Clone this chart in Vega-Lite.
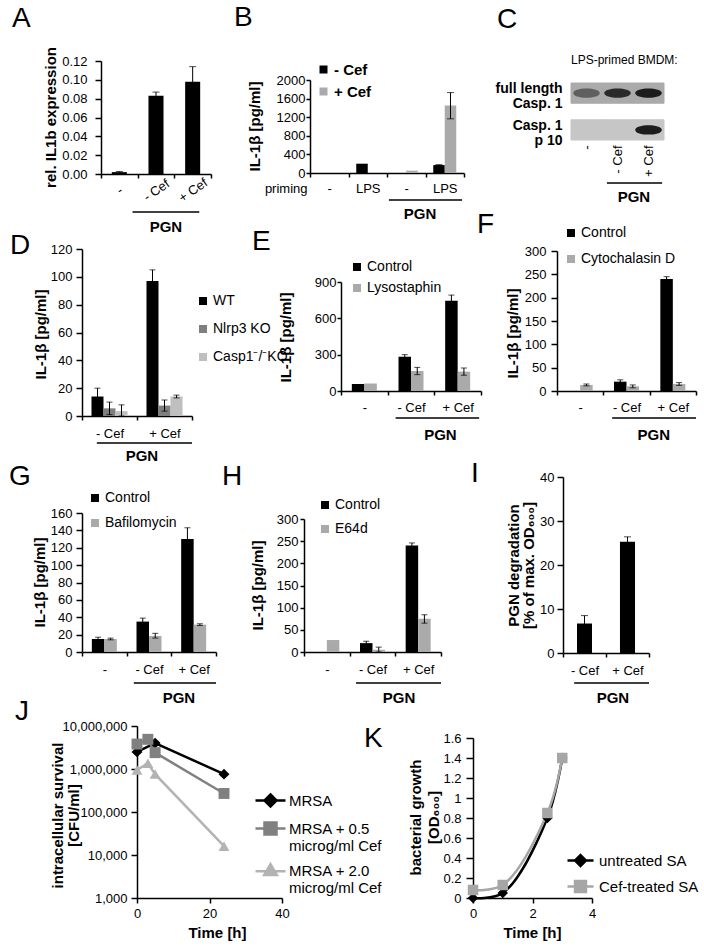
{
"$schema": "https://vega.github.io/schema/vega-lite/v6.json",
"padding": 0,
"background": "white",
"columns": 3,
"spacing": 0,
"bounds": "flush",
"align": "all",
"resolve": {"scale": {"color": "independent", "xOffset": "independent", "shape": "independent", "fill": "independent", "stroke": "independent", "opacity": "independent"}},
"config": {
 "font": "Liberation Sans",
 "view": {"stroke": null, "fill": "transparent"},
 "axis": {"grid": false, "labelFlush": false, "labelOverlap": false, "domainColor": "#000", "domainWidth": 1.5, "tickColor": "#000", "tickWidth": 1.5, "tickSize": 5, "labelPadding": 3, "labelColor": "#000", "labelFontSize": 13, "labelFont": "Liberation Sans", "titleFont": "Liberation Sans", "titleFontSize": 15, "titleFontWeight": "bold", "titleColor": "#000", "titleBaseline": "middle", "titleAlign": "center"},
 "legend": {"labelFont": "Liberation Sans", "labelFontSize": 14, "labelColor": "#000", "symbolType": "square", "symbolSize": 64, "symbolStrokeWidth": 0, "padding": 0, "labelOffset": 3, "rowPadding": 6},
 "title": {"font": "Liberation Sans", "fontSize": 28, "fontWeight": "normal", "anchor": "start", "frame": "group", "offset": 0, "baseline": "alphabetic", "color": "#000"},
 "text": {"font": "Liberation Sans", "color": "#000"}
},
"concat": [
{
 "width": 234, "height": 237,
 "title": {"text": "A", "dx": 8, "dy": 37},
 "data": {"values": [
  {"grp": "-", "val": 0.002, "lo": 0.0013, "hi": 0.0027},
  {"grp": "- Cef", "val": 0.083, "lo": 0.079, "hi": 0.087},
  {"grp": "+ Cef", "val": 0.098, "lo": 0.082, "hi": 0.114}
 ]},
 "layer": [
  {"mark": {"type": "bar", "color": "#000", "width": {"band": 0.41}},
   "encoding": {
    "x": {"field": "grp", "type": "nominal", "scale": {"domain": ["-", "- Cef", "+ Cef"], "range": [97, 207], "paddingInner": 0, "paddingOuter": 0},
          "axis": {"title": null, "offset": -63, "ticks": true, "tickBand": "extent", "tickSize": 4, "labelAngle": -35, "labelAlign": "center", "labelBaseline": "middle", "labelPadding": 12, "labelOverlap": false}},
    "y": {"field": "val", "type": "quantitative", "scale": {"domain": [0, 0.12], "range": [174, 61], "nice": false},
          "axis": {"title": "rel. IL1b expression", "offset": -97, "values": [0, 0.02, 0.04, 0.06, 0.08, 0.1, 0.12], "tickCount": 20, "format": ".2f", "tickSize": 6, "labelPadding": 8, "titleX": -51, "titleY": 117, "labelOverlap": false, "labelFlush": false}}
   }},
  {"mark": {"type": "rule", "color": "#000", "strokeWidth": 1},
   "encoding": {"x": {"field": "grp", "type": "nominal"}, "y": {"field": "lo", "type": "quantitative"}, "y2": {"field": "hi"}}},
  {"mark": {"type": "tick", "color": "#000", "thickness": 1, "size": 7},
   "encoding": {"x": {"field": "grp", "type": "nominal"}, "y": {"field": "hi", "type": "quantitative"}}},
  {"data": {"values": [{}]}, "mark": {"type": "rule", "color": "#000", "strokeWidth": 1.5},
   "encoding": {"x": {"datum": "-", "bandPosition": 0.86}, "x2": {"datum": "+ Cef", "bandPosition": 0.68}, "y": {"datum": -0.0404}}},
  {"data": {"values": [{}]}, "mark": {"type": "text", "text": "PGN", "fontWeight": "bold", "fontSize": 15, "baseline": "middle"},
   "encoding": {"x": {"datum": "- Cef", "bandPosition": 0.77}, "y": {"datum": -0.0563}}}
 ]
},
{
 "width": 234, "height": 237,
 "title": {"text": "B", "dx": -4, "dy": 36},
 "data": {"values": [
  {"grp": "none|LPS", "ser": "- Cef", "val": 200},
  {"grp": "PGN|-", "ser": "+ Cef", "val": 50},
  {"grp": "PGN|LPS", "ser": "- Cef", "val": 170, "lo": 160, "hi": 180},
  {"grp": "PGN|LPS", "ser": "+ Cef", "val": 1450, "lo": 1165, "hi": 1730}
 ]},
 "layer": [
  {"mark": {"type": "bar"},
   "encoding": {
    "x": {"field": "grp", "type": "nominal", "scale": {"domain": ["none|-", "none|LPS", "PGN|-", "PGN|LPS"], "range": [72, 226], "paddingInner": 0, "paddingOuter": 0},
          "axis": {"title": "priming", "offset": -64, "ticks": true, "tickBand": "extent", "tickSize": 4, "labelAngle": 0, "labelBaseline": "middle", "labelPadding": 11, "labelOverlap": false, "labelExpr": "split(datum.label, '|')[1]", "titleX": 69, "titleY": 15, "titleAlign": "right", "titleFontWeight": "normal", "titleFontSize": 13}},
    "xOffset": {"field": "ser", "type": "nominal", "scale": {"domain": ["- Cef", "+ Cef"], "paddingInner": 0, "paddingOuter": 0.674}},
    "y": {"field": "val", "type": "quantitative", "scale": {"domain": [0, 2000], "range": [173, 80], "nice": false},
          "axis": {"title": "IL-1β [pg/ml]", "offset": -72, "values": [0, 400, 800, 1200, 1600, 2000], "tickCount": 20, "format": "d", "tickSize": 4, "labelPadding": 1, "titleX": -56, "titleY": 126, "labelOverlap": false, "labelFlush": false}},
    "color": {"field": "ser", "type": "nominal", "scale": {"domain": ["- Cef", "+ Cef"], "range": ["#000000", "#aaaaaa"]},
              "legend": {"title": null, "orient": "none", "legendX": 78, "legendY": 62, "rowPadding": 6, "labelFontWeight": "bold", "labelFontSize": 15, "symbolType": "square", "symbolSize": 64, "symbolStrokeWidth": 0, "padding": 0, "labelOffset": 3}}
   }},
  {"mark": {"type": "rule", "color": "#000", "strokeWidth": 1},
   "encoding": {"x": {"field": "grp", "type": "nominal"}, "xOffset": {"field": "ser", "type": "nominal"}, "y": {"field": "lo", "type": "quantitative"}, "y2": {"field": "hi"}}},
  {"mark": {"type": "tick", "color": "#000", "thickness": 1, "size": 7},
   "encoding": {"x": {"field": "grp", "type": "nominal"}, "xOffset": {"field": "ser", "type": "nominal"}, "y": {"field": "hi", "type": "quantitative"}}},
  {"mark": {"type": "tick", "color": "#000", "thickness": 1, "size": 7},
   "encoding": {"x": {"field": "grp", "type": "nominal"}, "xOffset": {"field": "ser", "type": "nominal"}, "y": {"field": "lo", "type": "quantitative"}}},
  {"data": {"values": [{}]}, "mark": {"type": "rule", "color": "#000", "strokeWidth": 1.5},
   "encoding": {"x": {"datum": "PGN|-", "bandPosition": 0.05}, "x2": {"datum": "PGN|LPS", "bandPosition": 0.95}, "y": {"datum": -580}}},
  {"data": {"values": [{}]}, "mark": {"type": "text", "text": "PGN", "fontWeight": "bold", "fontSize": 15, "baseline": "middle"},
   "encoding": {"x": {"datum": "PGN|-", "bandPosition": 0.86}, "y": {"datum": -882}}}
 ]
},
{
 "width": 234, "height": 237,
 "title": {"text": "C", "dx": 25, "dy": 38},
 "resolve": {"scale": {"y": "independent"}, "axis": {"y": "independent"}},
 "layer": [
  {"data": {"values": [
    {"lane": "-", "row": "full length|Casp. 1", "intensity": 0.5},
    {"lane": "- Cef", "row": "full length|Casp. 1", "intensity": 0.85},
    {"lane": "+ Cef", "row": "full length|Casp. 1", "intensity": 0.95},
    {"lane": "-", "row": "Casp. 1|p 10", "intensity": 0},
    {"lane": "- Cef", "row": "Casp. 1|p 10", "intensity": 0},
    {"lane": "+ Cef", "row": "Casp. 1|p 10", "intensity": 0.95}
   ]},
   "layer": [
    {"mark": {"type": "rect", "strokeWidth": 1},
     "encoding": {
      "x": {"field": "lane", "type": "nominal", "scale": {"domain": ["-", "- Cef", "+ Cef"], "range": [99, 192], "paddingInner": 0, "paddingOuter": 0},
            "axis": {"title": null, "offset": -95, "ticks": false, "tickSize": 0, "domain": false, "labelAngle": -90, "labelAlign": "right", "labelBaseline": "middle", "labelPadding": 3, "labelOverlap": false}},
      "y": {"field": "row", "type": "nominal", "scale": {"domain": ["full length|Casp. 1", "Casp. 1|p 10"], "range": [83, 140], "paddingInner": 0.45, "paddingOuter": 0},
            "axis": {"title": null, "offset": -99, "ticks": false, "tickSize": 0, "domain": false, "labelPadding": 9, "labelExpr": "split(datum.label, '|')", "labelFontWeight": "bold", "labelFontSize": 14, "labelLineHeight": 15, "labelOffset": -4, "labelAlign": "right", "labelBaseline": "middle", "labelOverlap": false}},
      "fill": {"field": "row", "type": "nominal", "scale": {"domain": ["full length|Casp. 1", "Casp. 1|p 10"], "range": ["#aaaaaa", "#c6c6c6"]}, "legend": null},
      "stroke": {"field": "row", "type": "nominal", "scale": {"domain": ["full length|Casp. 1", "Casp. 1|p 10"], "range": ["#aaaaaa", "#c6c6c6"]}, "legend": null}
     }},
    {"mark": {"type": "point", "shape": "M-0.95,0C-0.95,-0.45 0.95,-0.45 0.95,0C0.95,0.45 -0.95,0.45 -0.95,0Z", "size": 784, "filled": true, "color": "#141414"},
     "encoding": {
      "x": {"field": "lane", "type": "nominal"},
      "y": {"field": "row", "type": "nominal"},
      "opacity": {"field": "intensity", "type": "quantitative", "scale": {"domain": [0, 1], "range": [0, 1]}, "legend": null}
     }}
   ]},
  {"data": {"values": [{}]},
   "layer": [
    {"mark": {"type": "rule", "color": "#000", "strokeWidth": 1.5},
     "encoding": {"x": {"datum": "- Cef", "bandPosition": 0.16}, "x2": {"datum": "+ Cef", "bandPosition": 0.94},
                  "y": {"datum": 0.898, "scale": {"domain": [0, 1], "range": [60, 197], "nice": false, "zero": false}, "axis": null}}},
    {"mark": {"type": "text", "text": "PGN", "fontWeight": "bold", "fontSize": 15, "baseline": "middle"},
     "encoding": {"x": {"datum": "+ Cef", "bandPosition": 0.03}, "y": {"datum": 1}}},
    {"mark": {"type": "text", "text": "LPS-primed BMDM:", "fontSize": 12, "align": "left", "baseline": "middle"},
     "encoding": {"x": {"datum": "-", "bandPosition": 0}, "y": {"datum": 0}}}
   ]}
 ]
},
{
 "width": 234, "height": 237,
 "title": {"text": "D", "dx": 6, "dy": 27},
 "data": {"values": [
  {"grp": "- Cef", "ser": "WT", "val": 14, "lo": 8, "hi": 20},
  {"grp": "- Cef", "ser": "Nlrp3 KO", "val": 5.5, "lo": 1, "hi": 10},
  {"grp": "- Cef", "ser": "Casp1⁻/⁻KO", "val": 3.5, "lo": 0, "hi": 8},
  {"grp": "+ Cef", "ser": "WT", "val": 97, "lo": 89, "hi": 105},
  {"grp": "+ Cef", "ser": "Nlrp3 KO", "val": 7.5, "lo": 3.5, "hi": 11.5},
  {"grp": "+ Cef", "ser": "Casp1⁻/⁻KO", "val": 14, "lo": 13, "hi": 15}
 ]},
 "layer": [
  {"mark": {"type": "bar"},
   "encoding": {
    "x": {"field": "grp", "type": "nominal", "scale": {"domain": ["- Cef", "+ Cef"], "range": [78, 188], "paddingInner": 0, "paddingOuter": 0},
          "axis": {"title": null, "offset": -58, "ticks": true, "tickBand": "extent", "tickSize": 4, "labelAngle": 0, "labelBaseline": "middle", "labelPadding": 13, "labelOverlap": false}},
    "xOffset": {"field": "ser", "type": "nominal", "scale": {"domain": ["WT", "Nlrp3 KO", "Casp1⁻/⁻KO"], "paddingInner": 0, "paddingOuter": 0.79}},
    "y": {"field": "val", "type": "quantitative", "scale": {"domain": [0, 120], "range": [179, 12], "nice": false},
          "axis": {"title": "IL-1β [pg/ml]", "offset": -78, "values": [0, 20, 40, 60, 80, 100, 120], "tickCount": 20, "tickSize": 6, "labelPadding": 4, "titleX": -42, "titleY": 97, "labelOverlap": false, "labelFlush": false}},
    "color": {"field": "ser", "type": "nominal", "scale": {"domain": ["WT", "Nlrp3 KO", "Casp1⁻/⁻KO"], "range": ["#000000", "#7f7f7f", "#bfbfbf"]},
              "legend": {"title": null, "orient": "none", "legendX": 192, "legendY": 57, "rowPadding": 14, "labelFontSize": 14, "symbolType": "square", "symbolSize": 64, "symbolStrokeWidth": 0, "padding": 0, "labelOffset": 3}}
   }},
  {"mark": {"type": "rule", "color": "#000", "strokeWidth": 1},
   "encoding": {"x": {"field": "grp", "type": "nominal"}, "xOffset": {"field": "ser", "type": "nominal"}, "y": {"field": "lo", "type": "quantitative"}, "y2": {"field": "hi"}}},
  {"mark": {"type": "tick", "color": "#000", "thickness": 1, "size": 6},
   "encoding": {"x": {"field": "grp", "type": "nominal"}, "xOffset": {"field": "ser", "type": "nominal"}, "y": {"field": "hi", "type": "quantitative"}}},
  {"mark": {"type": "tick", "color": "#000", "thickness": 1, "size": 6},
   "encoding": {"x": {"field": "grp", "type": "nominal"}, "xOffset": {"field": "ser", "type": "nominal"}, "y": {"field": "lo", "type": "quantitative"}}},
  {"data": {"values": [{}]}, "mark": {"type": "rule", "color": "#000", "strokeWidth": 1.5},
   "encoding": {"x": {"datum": "- Cef", "bandPosition": 0.27}, "x2": {"datum": "+ Cef", "bandPosition": 1}, "y": {"datum": -19.4}}},
  {"data": {"values": [{}]}, "mark": {"type": "text", "text": "PGN", "fontWeight": "bold", "fontSize": 15, "baseline": "middle"},
   "encoding": {"x": {"datum": "+ Cef", "bandPosition": 0.09}, "y": {"datum": -28.7}}}
 ]
},
{
 "width": 234, "height": 237,
 "title": {"text": "E", "dx": 14, "dy": 23},
 "data": {"values": [
  {"grp": "-", "ser": "Control", "val": 58},
  {"grp": "-", "ser": "Lysostaphin", "val": 62},
  {"grp": "- Cef", "ser": "Control", "val": 283, "lo": 266, "hi": 300},
  {"grp": "- Cef", "ser": "Lysostaphin", "val": 165, "lo": 135, "hi": 195},
  {"grp": "+ Cef", "ser": "Control", "val": 745, "lo": 700, "hi": 792},
  {"grp": "+ Cef", "ser": "Lysostaphin", "val": 160, "lo": 130, "hi": 190}
 ]},
 "layer": [
  {"mark": {"type": "bar"},
   "encoding": {
    "x": {"field": "grp", "type": "nominal", "scale": {"domain": ["-", "- Cef", "+ Cef"], "range": [103, 243], "paddingInner": 0, "paddingOuter": 0},
          "axis": {"title": null, "offset": -83, "ticks": true, "tickBand": "extent", "tickSize": 4, "labelAngle": 0, "labelBaseline": "middle", "labelPadding": 12, "labelOverlap": false}},
    "xOffset": {"field": "ser", "type": "nominal", "scale": {"domain": ["Control", "Lysostaphin"], "paddingInner": 0, "paddingOuter": 0.867}},
    "y": {"field": "val", "type": "quantitative", "scale": {"domain": [0, 900], "range": [154, 45], "nice": false},
          "axis": {"title": "IL-1β [pg/ml]", "offset": -103, "values": [0, 300, 600, 900], "tickCount": 20, "tickSize": 4, "labelPadding": 1, "titleX": -56, "titleY": 100, "labelOverlap": false, "labelFlush": false}},
    "color": {"field": "ser", "type": "nominal", "scale": {"domain": ["Control", "Lysostaphin"], "range": ["#000000", "#aaaaaa"]},
              "legend": {"title": null, "orient": "none", "legendX": 112, "legendY": 23, "rowPadding": 7, "labelFontSize": 14, "symbolType": "square", "symbolSize": 64, "symbolStrokeWidth": 0, "padding": 0, "labelOffset": 3}}
   }},
  {"mark": {"type": "rule", "color": "#000", "strokeWidth": 1},
   "encoding": {"x": {"field": "grp", "type": "nominal"}, "xOffset": {"field": "ser", "type": "nominal"}, "y": {"field": "lo", "type": "quantitative"}, "y2": {"field": "hi"}}},
  {"mark": {"type": "tick", "color": "#000", "thickness": 1, "size": 6},
   "encoding": {"x": {"field": "grp", "type": "nominal"}, "xOffset": {"field": "ser", "type": "nominal"}, "y": {"field": "hi", "type": "quantitative"}}},
  {"mark": {"type": "tick", "color": "#000", "thickness": 1, "size": 6},
   "encoding": {"x": {"field": "grp", "type": "nominal"}, "xOffset": {"field": "ser", "type": "nominal"}, "y": {"field": "lo", "type": "quantitative"}}},
  {"data": {"values": [{}]}, "mark": {"type": "rule", "color": "#000", "strokeWidth": 1.5},
   "encoding": {"x": {"datum": "- Cef", "bandPosition": 0.17}, "x2": {"datum": "+ Cef", "bandPosition": 0.96}, "y": {"datum": -223}}},
  {"data": {"values": [{}]}, "mark": {"type": "text", "text": "PGN", "fontWeight": "bold", "fontSize": 15, "baseline": "middle"},
   "encoding": {"x": {"datum": "+ Cef", "bandPosition": 0.13}, "y": {"datum": -363}}}
 ]
},
{
 "width": 234, "height": 237,
 "title": {"text": "F", "dx": 5, "dy": 17},
 "data": {"values": [
  {"grp": "-", "ser": "Cytochalasin D", "val": 13, "lo": 11, "hi": 15},
  {"grp": "- Cef", "ser": "Control", "val": 20, "lo": 16, "hi": 24},
  {"grp": "- Cef", "ser": "Cytochalasin D", "val": 10, "lo": 7, "hi": 13},
  {"grp": "+ Cef", "ser": "Control", "val": 240, "lo": 235, "hi": 245},
  {"grp": "+ Cef", "ser": "Cytochalasin D", "val": 15, "lo": 12, "hi": 18}
 ]},
 "layer": [
  {"mark": {"type": "bar"},
   "encoding": {
    "x": {"field": "grp", "type": "nominal", "scale": {"domain": ["-", "- Cef", "+ Cef"], "range": [85, 224], "paddingInner": 0, "paddingOuter": 0},
          "axis": {"title": null, "offset": -83, "ticks": true, "tickBand": "extent", "tickSize": 4, "labelAngle": 0, "labelBaseline": "middle", "labelPadding": 12, "labelOverlap": false}},
    "xOffset": {"field": "ser", "type": "nominal", "scale": {"domain": ["Control", "Cytochalasin D"], "paddingInner": 0, "paddingOuter": 0.853}},
    "y": {"field": "val", "type": "quantitative", "scale": {"domain": [0, 300], "range": [154, 14], "nice": false},
          "axis": {"title": "IL-1β  [pg/ml]", "offset": -85, "values": [0, 50, 100, 150, 200, 250, 300], "tickCount": 20, "tickSize": 6, "labelPadding": 5, "titleX": -45, "titleY": 96, "labelOverlap": false, "labelFlush": false}},
    "color": {"field": "ser", "type": "nominal", "scale": {"domain": ["Control", "Cytochalasin D"], "range": ["#000000", "#aaaaaa"]},
              "legend": {"title": null, "orient": "none", "legendX": 92, "legendY": -11, "rowPadding": 12, "labelFontSize": 14, "symbolType": "square", "symbolSize": 64, "symbolStrokeWidth": 0, "padding": 0, "labelOffset": 3}}
   }},
  {"mark": {"type": "rule", "color": "#000", "strokeWidth": 1},
   "encoding": {"x": {"field": "grp", "type": "nominal"}, "xOffset": {"field": "ser", "type": "nominal"}, "y": {"field": "lo", "type": "quantitative"}, "y2": {"field": "hi"}}},
  {"mark": {"type": "tick", "color": "#000", "thickness": 1, "size": 6},
   "encoding": {"x": {"field": "grp", "type": "nominal"}, "xOffset": {"field": "ser", "type": "nominal"}, "y": {"field": "hi", "type": "quantitative"}}},
  {"mark": {"type": "tick", "color": "#000", "thickness": 1, "size": 6},
   "encoding": {"x": {"field": "grp", "type": "nominal"}, "xOffset": {"field": "ser", "type": "nominal"}, "y": {"field": "lo", "type": "quantitative"}}},
  {"data": {"values": [{}]}, "mark": {"type": "rule", "color": "#000", "strokeWidth": 1.5},
   "encoding": {"x": {"datum": "- Cef", "bandPosition": 0.19}, "x2": {"datum": "+ Cef", "bandPosition": 1}, "y": {"datum": -57.9}}},
  {"data": {"values": [{}]}, "mark": {"type": "text", "text": "PGN", "fontWeight": "bold", "fontSize": 15, "baseline": "middle"},
   "encoding": {"x": {"datum": "+ Cef", "bandPosition": 0.09}, "y": {"datum": -94.3}}}
 ]
},
{
 "width": 234, "height": 237,
 "title": {"text": "G", "dx": 5, "dy": 21},
 "data": {"values": [
  {"grp": "-", "ser": "Control", "val": 15, "lo": 13, "hi": 17},
  {"grp": "-", "ser": "Bafilomycin", "val": 15, "lo": 14, "hi": 16},
  {"grp": "- Cef", "ser": "Control", "val": 35, "lo": 31, "hi": 39},
  {"grp": "- Cef", "ser": "Bafilomycin", "val": 18.5, "lo": 16, "hi": 21.5},
  {"grp": "+ Cef", "ser": "Control", "val": 130, "lo": 117, "hi": 143},
  {"grp": "+ Cef", "ser": "Bafilomycin", "val": 31.5, "lo": 30.5, "hi": 32.5}
 ]},
 "layer": [
  {"mark": {"type": "bar"},
   "encoding": {
    "x": {"field": "grp", "type": "nominal", "scale": {"domain": ["-", "- Cef", "+ Cef"], "range": [78, 212], "paddingInner": 0, "paddingOuter": 0},
          "axis": {"title": null, "offset": -59, "ticks": true, "tickBand": "extent", "tickSize": 4, "labelAngle": 0, "labelBaseline": "middle", "labelPadding": 13, "labelOverlap": false}},
    "xOffset": {"field": "ser", "type": "nominal", "scale": {"domain": ["Control", "Bafilomycin"], "paddingInner": 0, "paddingOuter": 0.787}},
    "y": {"field": "val", "type": "quantitative", "scale": {"domain": [0, 160], "range": [178, 39], "nice": false},
          "axis": {"title": "IL-1β  [pg/ml]", "offset": -78, "values": [0, 20, 40, 60, 80, 100, 120, 140, 160], "tickCount": 20, "tickSize": 6, "labelPadding": 4, "titleX": -43, "titleY": 108, "labelOverlap": false, "labelFlush": false}},
    "color": {"field": "ser", "type": "nominal", "scale": {"domain": ["Control", "Bafilomycin"], "range": ["#000000", "#aaaaaa"]},
              "legend": {"title": null, "orient": "none", "legendX": 84, "legendY": 17, "rowPadding": 11, "labelFontSize": 14, "symbolType": "square", "symbolSize": 64, "symbolStrokeWidth": 0, "padding": 0, "labelOffset": 3}}
   }},
  {"mark": {"type": "rule", "color": "#000", "strokeWidth": 1},
   "encoding": {"x": {"field": "grp", "type": "nominal"}, "xOffset": {"field": "ser", "type": "nominal"}, "y": {"field": "lo", "type": "quantitative"}, "y2": {"field": "hi"}}},
  {"mark": {"type": "tick", "color": "#000", "thickness": 1, "size": 6},
   "encoding": {"x": {"field": "grp", "type": "nominal"}, "xOffset": {"field": "ser", "type": "nominal"}, "y": {"field": "hi", "type": "quantitative"}}},
  {"mark": {"type": "tick", "color": "#000", "thickness": 1, "size": 6},
   "encoding": {"x": {"field": "grp", "type": "nominal"}, "xOffset": {"field": "ser", "type": "nominal"}, "y": {"field": "lo", "type": "quantitative"}}},
  {"data": {"values": [{}]}, "mark": {"type": "rule", "color": "#000", "strokeWidth": 1.5},
   "encoding": {"x": {"datum": "- Cef", "bandPosition": 0.16}, "x2": {"datum": "+ Cef", "bandPosition": 1}, "y": {"datum": -35.7}}},
  {"data": {"values": [{}]}, "mark": {"type": "text", "text": "PGN", "fontWeight": "bold", "fontSize": 15, "baseline": "middle"},
   "encoding": {"x": {"datum": "+ Cef", "bandPosition": 0.17}, "y": {"datum": -52.9}}}
 ]
},
{
 "width": 234, "height": 237,
 "title": {"text": "H", "dx": -16, "dy": 21},
 "data": {"values": [
  {"grp": "-", "ser": "E64d", "val": 27},
  {"grp": "- Cef", "ser": "Control", "val": 20, "lo": 15.5, "hi": 24.5},
  {"grp": "- Cef", "ser": "E64d", "val": 5, "lo": 0, "hi": 11},
  {"grp": "+ Cef", "ser": "Control", "val": 240, "lo": 234, "hi": 246},
  {"grp": "+ Cef", "ser": "E64d", "val": 75, "lo": 65, "hi": 84}
 ]},
 "layer": [
  {"mark": {"type": "bar"},
   "encoding": {
    "x": {"field": "grp", "type": "nominal", "scale": {"domain": ["-", "- Cef", "+ Cef"], "range": [66, 203], "paddingInner": 0, "paddingOuter": 0},
          "axis": {"title": null, "offset": -59, "ticks": true, "tickBand": "extent", "tickSize": 4, "labelAngle": 0, "labelBaseline": "middle", "labelPadding": 13, "labelOverlap": false}},
    "xOffset": {"field": "ser", "type": "nominal", "scale": {"domain": ["Control", "E64d"], "paddingInner": 0, "paddingOuter": 0.827}},
    "y": {"field": "val", "type": "quantitative", "scale": {"domain": [0, 300], "range": [178, 45], "nice": false},
          "axis": {"title": "IL-1β  [pg/ml]", "offset": -66, "values": [0, 50, 100, 150, 200, 250, 300], "tickCount": 20, "tickSize": 4, "labelPadding": 2, "titleX": -47, "titleY": 111, "labelOverlap": false, "labelFlush": false}},
    "color": {"field": "ser", "type": "nominal", "scale": {"domain": ["Control", "E64d"], "range": ["#000000", "#aaaaaa"]},
              "legend": {"title": null, "orient": "none", "legendX": 80, "legendY": 24, "rowPadding": 10, "labelFontSize": 14, "symbolType": "square", "symbolSize": 64, "symbolStrokeWidth": 0, "padding": 0, "labelOffset": 3}}
   }},
  {"mark": {"type": "rule", "color": "#000", "strokeWidth": 1},
   "encoding": {"x": {"field": "grp", "type": "nominal"}, "xOffset": {"field": "ser", "type": "nominal"}, "y": {"field": "lo", "type": "quantitative"}, "y2": {"field": "hi"}}},
  {"mark": {"type": "tick", "color": "#000", "thickness": 1, "size": 6},
   "encoding": {"x": {"field": "grp", "type": "nominal"}, "xOffset": {"field": "ser", "type": "nominal"}, "y": {"field": "hi", "type": "quantitative"}}},
  {"mark": {"type": "tick", "color": "#000", "thickness": 1, "size": 6},
   "encoding": {"x": {"field": "grp", "type": "nominal"}, "xOffset": {"field": "ser", "type": "nominal"}, "y": {"field": "lo", "type": "quantitative"}}},
  {"data": {"values": [{}]}, "mark": {"type": "rule", "color": "#000", "strokeWidth": 1.5},
   "encoding": {"x": {"datum": "- Cef", "bandPosition": 0.14}, "x2": {"datum": "+ Cef", "bandPosition": 1}, "y": {"datum": -69.9}}},
  {"data": {"values": [{}]}, "mark": {"type": "text", "text": "PGN", "fontWeight": "bold", "fontSize": 15, "baseline": "middle"},
   "encoding": {"x": {"datum": "+ Cef", "bandPosition": 0.08}, "y": {"datum": -103.8}}}
 ]
},
{
 "width": 234, "height": 237,
 "title": {"text": "I", "dx": -1, "dy": 21},
 "data": {"values": [
  {"grp": "- Cef", "val": 6.7, "lo": 4.9, "hi": 8.5},
  {"grp": "+ Cef", "val": 25.3, "lo": 24.2, "hi": 26.4}
 ]},
 "layer": [
  {"mark": {"type": "bar", "color": "#000", "width": {"band": 0.35}},
   "encoding": {
    "x": {"field": "grp", "type": "nominal", "scale": {"domain": ["- Cef", "+ Cef"], "range": [91, 177], "paddingInner": 0, "paddingOuter": 0},
          "axis": {"title": null, "offset": -58, "ticks": true, "tickBand": "extent", "tickSize": 4, "labelAngle": 0, "labelBaseline": "middle", "labelPadding": 13, "labelOverlap": false}},
    "y": {"field": "val", "type": "quantitative", "scale": {"domain": [0, 40], "range": [179, 3], "nice": false},
          "axis": {"title": ["PGN degradation", "[% of max. OD₆₀₀]"], "offset": -91, "values": [0, 10, 20, 30, 40], "tickCount": 20, "tickSize": 6, "labelPadding": 3, "titleX": -50, "titleY": 91, "titleLineHeight": 15, "labelOverlap": false, "labelFlush": false}}
   }},
  {"mark": {"type": "rule", "color": "#000", "strokeWidth": 1},
   "encoding": {"x": {"field": "grp", "type": "nominal"}, "y": {"field": "lo", "type": "quantitative"}, "y2": {"field": "hi"}}},
  {"mark": {"type": "tick", "color": "#000", "thickness": 1, "size": 7},
   "encoding": {"x": {"field": "grp", "type": "nominal"}, "y": {"field": "hi", "type": "quantitative"}}},
  {"data": {"values": [{}]}, "mark": {"type": "rule", "color": "#000", "strokeWidth": 1.5},
   "encoding": {"x": {"datum": "- Cef", "bandPosition": 0.26}, "x2": {"datum": "+ Cef", "bandPosition": 1}, "y": {"datum": -6.82}}},
  {"data": {"values": [{}]}, "mark": {"type": "text", "text": "PGN", "fontWeight": "bold", "fontSize": 15, "baseline": "middle"},
   "encoding": {"x": {"datum": "+ Cef", "bandPosition": 0.16}, "y": {"datum": -10.23}}}
 ]
},
{
 "width": 234, "height": 237,
 "title": {"text": "J", "dx": 11, "dy": 19},
 "data": {"values": [
  {"s": "MRSA", "t": 0, "v": 2500000},
  {"s": "MRSA", "t": 5, "v": 4000000},
  {"s": "MRSA", "t": 24, "v": 760000},
  {"s": "MRSA + 0.5 microg/ml Cef", "t": 0, "v": 3800000},
  {"s": "MRSA + 0.5 microg/ml Cef", "t": 3, "v": 4900000},
  {"s": "MRSA + 0.5 microg/ml Cef", "t": 5, "v": 2400000},
  {"s": "MRSA + 0.5 microg/ml Cef", "t": 24, "v": 270000},
  {"s": "MRSA + 2.0 microg/ml Cef", "t": 0, "v": 950000},
  {"s": "MRSA + 2.0 microg/ml Cef", "t": 3, "v": 1360000},
  {"s": "MRSA + 2.0 microg/ml Cef", "t": 5, "v": 760000},
  {"s": "MRSA + 2.0 microg/ml Cef", "t": 24, "v": 16000}
 ]},
 "resolve": {"scale": {"shape": "independent", "fill": "independent", "stroke": "independent"}},
 "layer": [
  {"mark": {"type": "line", "strokeWidth": 2.5},
   "encoding": {
    "x": {"field": "t", "type": "quantitative", "scale": {"domain": [0, 40], "range": [133, 278], "nice": false, "zero": false},
          "axis": {"title": "Time [h]", "offset": -50, "values": [0, 20, 40], "tickCount": 20, "format": "d", "tickSize": 5, "labelPadding": 10, "labelBaseline": "middle", "titleX": 213, "titleY": 34, "labelOverlap": false, "labelFlush": false}},
    "y": {"field": "v", "type": "quantitative", "scale": {"type": "log", "domain": [1000, 10000000], "range": [187, 15], "nice": false},
          "axis": {"title": ["intracellular survival", "[CFU/ml]"], "offset": -133, "values": [1000, 10000, 100000, 1000000, 10000000], "tickCount": 20, "format": ",", "tickSize": 6, "labelPadding": 4, "titleX": -80, "titleY": 104, "titleLineHeight": 16, "labelOverlap": false, "labelFlush": false}},
    "color": {"field": "s", "type": "nominal", "scale": {"domain": ["MRSA", "MRSA + 0.5 microg/ml Cef", "MRSA + 2.0 microg/ml Cef"], "range": ["#000000", "#808080", "#b3b3b3"]}, "legend": null}
   }},
  {"mark": {"type": "point", "filled": true, "size": 120, "opacity": 1},
   "encoding": {
    "x": {"field": "t", "type": "quantitative"},
    "y": {"field": "v", "type": "quantitative"},
    "color": {"field": "s", "type": "nominal", "legend": null},
    "shape": {"field": "s", "type": "nominal", "scale": {"domain": ["MRSA", "MRSA + 0.5 microg/ml Cef", "MRSA + 2.0 microg/ml Cef"], "range": ["diamond", "square", "triangle-up"]}, "legend": null}
   }},
  {"mark": {"type": "point", "opacity": 0, "strokeWidth": 2.5},
   "encoding": {
    "x": {"field": "t", "type": "quantitative"},
    "y": {"field": "v", "type": "quantitative"},
    "shape": {"field": "s", "type": "nominal", "scale": {"domain": ["MRSA", "MRSA + 0.5 microg/ml Cef", "MRSA + 2.0 microg/ml Cef"], "range": ["M-1,0H1M0,-0.4L0.4,0L0,0.4L-0.4,0Z", "M-1,0H1M-0.4,-0.4H0.4V0.4H-0.4Z", "M-1,0.05H1M0,-0.42L0.42,0.3H-0.42Z"]},
              "legend": {"title": null, "orient": "none", "legendX": 250, "legendY": 73, "symbolSize": 900, "symbolStrokeWidth": 2.5, "symbolOpacity": 1, "rowPadding": 0, "labelOffset": 2, "labelFontSize": 15, "padding": 0, "labelExpr": "datum.label == 'MRSA' ? datum.label : [slice(datum.label, 0, 10), slice(datum.label, 11)]"}},
    "fill": {"field": "s", "type": "nominal", "scale": {"domain": ["MRSA", "MRSA + 0.5 microg/ml Cef", "MRSA + 2.0 microg/ml Cef"], "range": ["#000000", "#808080", "#b3b3b3"]},
              "legend": {"title": null, "orient": "none", "legendX": 250, "legendY": 73, "symbolSize": 900, "symbolStrokeWidth": 2.5, "symbolOpacity": 1, "rowPadding": 0, "labelOffset": 2, "labelFontSize": 15, "padding": 0, "labelExpr": "datum.label == 'MRSA' ? datum.label : [slice(datum.label, 0, 10), slice(datum.label, 11)]"}},
    "stroke": {"field": "s", "type": "nominal", "scale": {"domain": ["MRSA", "MRSA + 0.5 microg/ml Cef", "MRSA + 2.0 microg/ml Cef"], "range": ["#000000", "#808080", "#b3b3b3"]},
              "legend": {"title": null, "orient": "none", "legendX": 250, "legendY": 73, "symbolSize": 900, "symbolStrokeWidth": 2.5, "symbolOpacity": 1, "rowPadding": 0, "labelOffset": 2, "labelFontSize": 15, "padding": 0, "labelExpr": "datum.label == 'MRSA' ? datum.label : [slice(datum.label, 0, 10), slice(datum.label, 11)]"}}
   }}
 ]
},
{
 "width": 234, "height": 237,
 "title": {"text": "K", "dx": 126, "dy": 46},
 "data": {"values": [
  {"s": "untreated SA", "t": 0, "v": 0},
  {"s": "untreated SA", "t": 1, "v": 0.05},
  {"s": "untreated SA", "t": 2.5, "v": 0.8},
  {"s": "untreated SA", "t": 3, "v": 1.4},
  {"s": "Cef-treated SA", "t": 0, "v": 0.08},
  {"s": "Cef-treated SA", "t": 1, "v": 0.13},
  {"s": "Cef-treated SA", "t": 2.5, "v": 0.85},
  {"s": "Cef-treated SA", "t": 3, "v": 1.4}
 ]},
 "resolve": {"scale": {"shape": "independent", "fill": "independent", "stroke": "independent"}},
 "layer": [
  {"mark": {"type": "line", "strokeWidth": 2.5, "interpolate": "catmull-rom"},
   "encoding": {
    "x": {"field": "t", "type": "quantitative", "scale": {"domain": [0, 4], "range": [235, 354], "nice": false, "zero": false},
          "axis": {"title": "Time [h]", "offset": -50, "values": [0, 2, 4], "tickCount": 20, "format": "d", "tickSize": 5, "labelPadding": 10, "labelBaseline": "middle", "titleX": 294, "titleY": 34, "labelOverlap": false, "labelFlush": false}},
    "y": {"field": "v", "type": "quantitative", "scale": {"domain": [0, 1.6], "range": [187, 27], "nice": false},
          "axis": {"title": ["bacterial growth", "[OD₆₀₀]"], "offset": -235, "values": [0, 0.2, 0.4, 0.6, 0.8, 1, 1.2, 1.4, 1.6], "tickCount": 20, "format": ".1~f", "tickSize": 7, "labelPadding": 5, "titleX": -58, "titleY": 106, "titleLineHeight": 18, "labelOverlap": false, "labelFlush": false}},
    "color": {"field": "s", "type": "nominal", "scale": {"domain": ["untreated SA", "Cef-treated SA"], "range": ["#000000", "#a6a6a6"]}, "legend": null}
   }},
  {"mark": {"type": "point", "filled": true, "size": 110, "opacity": 1},
   "encoding": {
    "x": {"field": "t", "type": "quantitative"},
    "y": {"field": "v", "type": "quantitative"},
    "color": {"field": "s", "type": "nominal", "legend": null},
    "shape": {"field": "s", "type": "nominal", "scale": {"domain": ["untreated SA", "Cef-treated SA"], "range": ["diamond", "square"]}, "legend": null}
   }},
  {"mark": {"type": "point", "opacity": 0, "strokeWidth": 2.5},
   "encoding": {
    "x": {"field": "t", "type": "quantitative"},
    "y": {"field": "v", "type": "quantitative"},
    "shape": {"field": "s", "type": "nominal", "scale": {"domain": ["untreated SA", "Cef-treated SA"], "range": ["M-1,0H1M0,-0.42L0.42,0L0,0.42L-0.42,0Z", "M-1,0H1M-0.42,-0.42H0.42V0.42H-0.42Z"]},
              "legend": {"title": null, "orient": "none", "legendX": 328, "legendY": 135, "symbolSize": 676, "symbolStrokeWidth": 2.5, "symbolOpacity": 1, "rowPadding": 1, "labelOffset": 4, "labelFontSize": 15, "padding": 0}},
    "fill": {"field": "s", "type": "nominal", "scale": {"domain": ["untreated SA", "Cef-treated SA"], "range": ["#000000", "#a6a6a6"]},
              "legend": {"title": null, "orient": "none", "legendX": 328, "legendY": 135, "symbolSize": 676, "symbolStrokeWidth": 2.5, "symbolOpacity": 1, "rowPadding": 1, "labelOffset": 4, "labelFontSize": 15, "padding": 0}},
    "stroke": {"field": "s", "type": "nominal", "scale": {"domain": ["untreated SA", "Cef-treated SA"], "range": ["#000000", "#a6a6a6"]},
              "legend": {"title": null, "orient": "none", "legendX": 328, "legendY": 135, "symbolSize": 676, "symbolStrokeWidth": 2.5, "symbolOpacity": 1, "rowPadding": 1, "labelOffset": 4, "labelFontSize": 15, "padding": 0}}
   }}
 ]
}
]
}
